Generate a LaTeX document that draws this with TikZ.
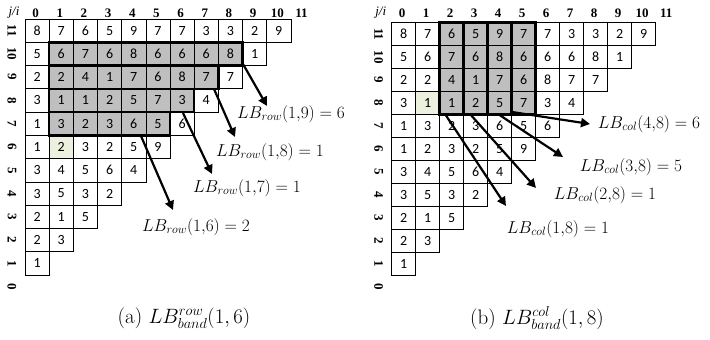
\documentclass[tikz,border=0pt]{standalone}
\usepackage{fontspec}
\newfontfamily\cellfont{Carlito}
\newfontfamily\hdrfont{Liberation Serif}
\usetikzlibrary{arrows.meta,backgrounds}
\definecolor{bandgray}{HTML}{BFBFBF}
\definecolor{lightgreen}{HTML}{EBF1DE}
\tikzset{
  cell/.style={draw=black, line width=0.7pt, inner sep=0pt, outer sep=0pt,
    font=\cellfont\fontsize{14}{14}\selectfont},
  hdr/.style={inner sep=0pt, font=\hdrfont\bfseries\fontsize{13}{13}\selectfont},
  hdrit/.style={inner sep=0pt, font=\hdrfont\itshape\fontsize{13}{13}\selectfont},
  band/.style={draw=black, line width=2.6pt, line join=miter},
  arr/.style={line width=2.2pt, -{Triangle[length=9pt,width=9pt]}},
  lbl/.style={inner sep=0pt, font=\fontsize{18}{20}\selectfont},
  capt/.style={inner sep=0pt, font=\fontsize{21}{23}\selectfont}
}
\newcommand\drawgrid[5]{%
  \foreach \j/\vals in {11/{8,7,6,5,9,7,7,3,3,2,9},10/{5,6,7,6,8,6,6,6,8,1},
      9/{2,2,4,1,7,6,8,7,7},8/{3,1,1,2,5,7,3,4},7/{1,3,2,3,6,5,6},
      6/{1,2,3,2,5,9},5/{3,4,5,6,4},4/{3,5,3,2},3/{2,1,5},2/{2,3},1/{1}}{%
    \foreach \v [count=\i from 0] in \vals {%
      \node[cell, minimum width=#4pt, minimum height=#5pt] (#1-\i-\j)
        at ({#2+(\i+0.5)*#4},{#3+(11-\j+0.5)*#5}) {\v};
    }%
  }%
  \foreach \i in {0,...,11} {%
    \node[hdr] (#1h-\i) at ({#2+(\i+0.5)*#4-1.5},13) {\i};
  }%
  \foreach \j in {0,...,11} {%
    \node[hdr, rotate=-90] (#1r-\j) at ({#2-13},{#3+(11-\j+0.5)*#5}) {\j};
  }%
  \node[hdrit] (#1ji) at ({#2-11},13) {j/i};
}
\begin{document}
\begin{tikzpicture}[x=1pt,y=-1pt]
\useasboundingbox (0,0) rectangle (710,340);
% ---------- left grid ----------
\drawgrid{L}{25}{19}{24.17}{23.27}
\begin{scope}[on background layer]
  \fill[bandgray] (L-1-10.north west) rectangle (L-8-10.south east);
  \fill[bandgray] (L-1-9.north west) rectangle (L-7-9.south east);
  \fill[bandgray] (L-1-8.north west) rectangle (L-6-8.south east);
  \fill[bandgray] (L-1-7.north west) rectangle (L-5-7.south east);
  \fill[lightgreen] (L-1-6.north west) rectangle (L-1-6.south east);
\end{scope}
\draw[band] (L-1-10.north west) rectangle (L-8-10.south east);
\draw[band] (L-1-9.north west) rectangle (L-7-9.south east);
\draw[band] (L-1-8.north west) rectangle (L-6-8.south east);
\draw[band] (L-1-7.north west) rectangle (L-5-7.south east);
% labels left
\node[lbl] (tL1) at (291,114) {$LB_{row}(1{,}9) = 6$};
\node[lbl] (tL2) at (270,152) {$LB_{row}(1{,}8) = 1$};
\node[lbl] (tL3) at (247,188) {$LB_{row}(1{,}7) = 1$};
\node[lbl] (tL4) at (196,227) {$LB_{row}(1{,}6) = 2$};
\coordinate (aL1s) at (243,64);  \coordinate (aL1e) at (267,106);
\coordinate (aL2s) at (214,89);  \coordinate (aL2e) at (235,137);
\coordinate (aL3s) at (183,113); \coordinate (aL3e) at (212,174);
\coordinate (aL4s) at (141,136); \coordinate (aL4e) at (173,210);
\draw[arr] (aL1s) -- (aL1e);
\draw[arr] (aL2s) -- (aL2e);
\draw[arr] (aL3s) -- (aL3e);
\draw[arr] (aL4s) -- (aL4e);
% ---------- right grid ----------
\drawgrid{R}{391.7}{22.7}{24.0}{22.94}
\begin{scope}[on background layer]
  \fill[bandgray] (R-2-11.north west) rectangle (R-5-8.south east);
  \fill[lightgreen] (R-1-8.north west) rectangle (R-1-8.south east);
\end{scope}
\draw[band] (R-2-11.north west) rectangle (R-2-8.south east);
\draw[band] (R-3-11.north west) rectangle (R-3-8.south east);
\draw[band] (R-4-11.north west) rectangle (R-4-8.south east);
\draw[band] (R-5-11.north west) rectangle (R-5-8.south east);
% labels right
\node[lbl] (tR1) at (558,229) {$LB_{col}(1{,}8) = 1$};
\node[lbl] (tR2) at (605,195) {$LB_{col}(2{,}8) = 1$};
\node[lbl] (tR3) at (631,167) {$LB_{col}(3{,}8) = 5$};
\node[lbl] (tR4) at (649,124) {$LB_{col}(4{,}8) = 6$};
\coordinate (aR1s) at (445,114); \coordinate (aR1e) at (506,206);
\coordinate (aR2s) at (470,114); \coordinate (aR2e) at (536,188);
\coordinate (aR3s) at (498,114); \coordinate (aR3e) at (563,157);
\coordinate (aR4s) at (512,112); \coordinate (aR4e) at (590,124);
\draw[arr] (aR1s) -- (aR1e);
\draw[arr] (aR2s) -- (aR2e);
\draw[arr] (aR3s) -- (aR3e);
\draw[arr] (aR4s) -- (aR4e);
% ---------- captions ----------
\node[capt] (capA) at (184,318) {(a) $LB^{row}_{band}(1,6)$};
\node[capt] (capB) at (537,318) {(b) $LB^{col}_{band}(1,8)$};
\end{tikzpicture}
\end{document}
